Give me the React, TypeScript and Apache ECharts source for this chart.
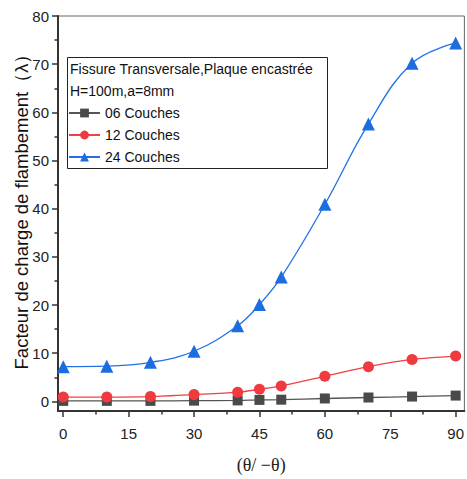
import React, { useEffect, useRef } from "react";
import * as echarts from "echarts";

const angles = [0, 10, 20, 30, 40, 45, 50, 60, 70, 80, 90];
const couches06 = [0.1, 0.1, 0.1, 0.15, 0.2, 0.3, 0.35, 0.6, 0.8, 1.0, 1.2];
const couches12 = [0.9, 0.9, 1.0, 1.4, 1.9, 2.5, 3.2, 5.2, 7.2, 8.7, 9.4];
const couches24 = [7.2, 7.3, 8.1, 10.4, 15.7, 20.1, 25.8, 40.9, 57.6, 70.2, 74.4];
const xTicks = [0, 15, 30, 45, 60, 75, 90];
const xMinorTicks = [7.5, 22.5, 37.5, 52.5, 67.5, 82.5];
const yTicks = [0, 10, 20, 30, 40, 50, 60, 70, 80];
const yMinorTicks = [5, 15, 25, 35, 45, 55, 65, 75];
const seriesNames = ["06 Couches", "12 Couches", "24 Couches"];
const legendTitle = ["Fissure Transversale,Plaque encastrée", "H=100m,a=8mm"];
const xName = "(θ/ −θ)";
const yName = "Facteur de charge de flambement（λ）";

export default function App() {
  const ref = useRef<HTMLDivElement>(null);
  useEffect(() => {
    if (!ref.current) return;
    const chart = echarts.init(ref.current, undefined, { renderer: "svg" });
    const font = "'Liberation Sans', Arial, sans-serif";
    const axisCol = "#333";
    const mk = (data: number[]) => angles.map((a, i) => [a, data[i]]);
    chart.setOption({
      animation: false,
      backgroundColor: "#fff",
      grid: {
        left: 58, right: 1, top: 16, bottom: 66,
        show: true, borderColor: "#666", borderWidth: 1,
      },
      xAxis: [
        {
          type: "value", min: -1.2, max: 92,
          axisLine: { show: true, onZero: false, lineStyle: { color: axisCol, width: 2 } },
          axisTick: { show: true, customValues: xTicks, length: 6, lineStyle: { color: axisCol, width: 1.5 } },
          axisLabel: { customValues: xTicks, fontSize: 15, color: "#222", fontFamily: font, margin: 15 },
          splitLine: { show: false },
          name: xName, nameLocation: "middle", nameGap: 45,
          nameTextStyle: { fontSize: 18, color: "#222", fontFamily: "'Liberation Serif', 'Times New Roman', serif" },
        },
        {
          type: "value", min: -1.2, max: 92, position: "bottom", gridIndex: 0,
          axisLine: { show: false, onZero: false },
          axisTick: { show: true, customValues: xMinorTicks, length: 3.5, lineStyle: { color: axisCol, width: 1.5 } },
          axisLabel: { show: false },
          splitLine: { show: false },
        },
      ],
      yAxis: [
        {
          type: "value", min: -2, max: 80,
          axisLine: { show: true, onZero: false, lineStyle: { color: axisCol, width: 2 } },
          axisTick: { show: true, customValues: yTicks, length: 6, lineStyle: { color: axisCol, width: 1.5 } },
          axisLabel: { customValues: yTicks, fontSize: 15, color: "#222", fontFamily: font, margin: 9 },
          splitLine: { show: false },
        },
        {
          type: "value", min: -2, max: 80, position: "left",
          axisLine: { show: false, onZero: false },
          axisTick: { show: true, customValues: yMinorTicks, length: 3.5, lineStyle: { color: axisCol, width: 1.5 } },
          axisLabel: { show: false },
          splitLine: { show: false },
        },
      ],
      legend: {
        orient: "vertical", left: 68, top: 106,
        itemWidth: 31, itemHeight: 11, itemGap: 8,
        data: seriesNames,
        textStyle: { fontSize: 14, color: "#111", fontFamily: font },
        padding: 0,
      },
      graphic: [
        { type: "rect", shape: { x: 67.5, y: 57.5, width: 260, height: 111 }, style: { fill: "none", stroke: "#222", lineWidth: 1 }, z: 10 },
        { type: "text", x: 70, y: 69, style: { text: legendTitle[0], fontSize: 14, fill: "#111", fontFamily: font, verticalAlign: "middle" }, z: 10 },
        { type: "text", x: 70, y: 91, style: { text: legendTitle[1], fontSize: 14, fill: "#111", fontFamily: font, verticalAlign: "middle" }, z: 10 },
        {
          type: "text", x: 21, y: 207, rotation: Math.PI / 2,
          style: { text: yName, fontSize: 18.5, fill: "#111", fontFamily: font, align: "center", verticalAlign: "middle" },
        },
      ],
      series: [
        {
          name: seriesNames[0], type: "line", data: mk(couches06), smooth: 0.3,
          symbol: "rect", symbolSize: 10,
          lineStyle: { color: "#555", width: 1.3 }, itemStyle: { color: "#4a4a4a" },
        },
        {
          name: seriesNames[1], type: "line", data: mk(couches12), smooth: 0.3,
          symbol: "circle", symbolSize: 11,
          lineStyle: { color: "#f04045", width: 1.3 }, itemStyle: { color: "#ef3b40" },
        },
        {
          name: seriesNames[2], type: "line", data: mk(couches24), smooth: 0.4,
          symbol: "triangle", symbolSize: 13,
          lineStyle: { color: "#2272e6", width: 1.3 }, itemStyle: { color: "#1c6de0" },
        },
      ],
    });
    return () => chart.dispose();
  }, []);
  return <div ref={ref} style={{ position: "absolute", left: 0, top: 0, width: 467, height: 479 }} />;
}
